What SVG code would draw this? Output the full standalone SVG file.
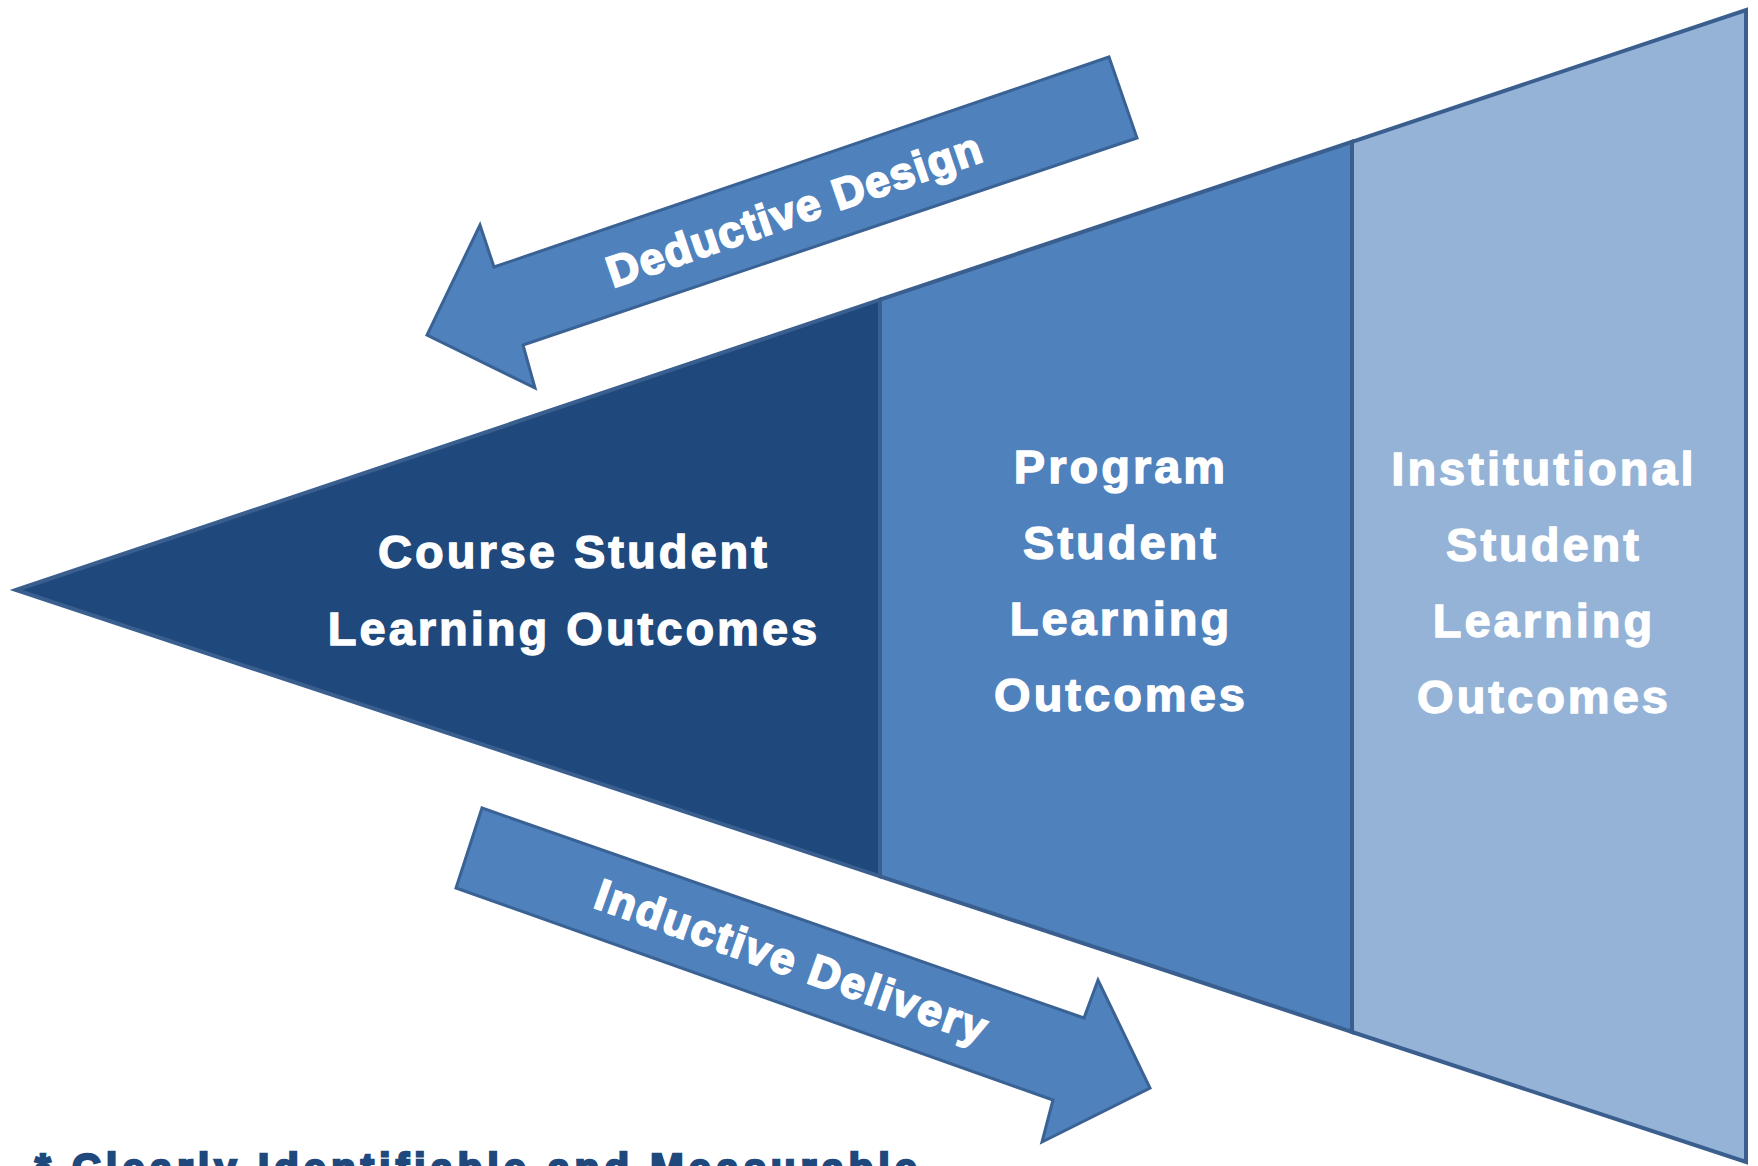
<svg xmlns="http://www.w3.org/2000/svg" width="1758" height="1166" viewBox="0 0 1758 1166">
  <style>
    .seg { stroke: #3A5F8F; stroke-width: 4; stroke-linejoin: miter; }
    .lbl { font-family: "Liberation Sans", Arial, sans-serif; font-weight: bold; font-size: 47px; fill: #FFFFFF; stroke: #FFFFFF; stroke-width: 1.3; letter-spacing: 3px; text-anchor: middle; }
    .arrow { fill: #4F81BD; stroke: #3A6294; stroke-width: 3; stroke-linejoin: miter; }
    .atxt { font-family: "Liberation Sans", Arial, sans-serif; font-weight: bold; font-size: 44px; fill: #FFFFFF; stroke: #FFFFFF; stroke-width: 2; }
    .note { font-family: "Liberation Sans", Arial, sans-serif; font-weight: bold; font-size: 40px; fill: #1F497D; stroke: #1F497D; stroke-width: 2.5; }
  </style>
  <rect width="1758" height="1166" fill="#FFFFFF"/>

  <g id="institutional">
    <polygon class="seg" fill="#95B3D7" points="1352,141.8 1746,10 1746,1162 1352,1032"/>
    <text class="lbl" x="1544" y="485">Institutional</text>
    <text class="lbl" x="1544" y="561">Student</text>
    <text class="lbl" x="1544" y="637">Learning</text>
    <text class="lbl" x="1544" y="713">Outcomes</text>
  </g>

  <g id="program">
    <polygon class="seg" fill="#4F81BD" points="880,299.7 1352,141.8 1352,1032 880,876.3"/>
    <text class="lbl" x="1121" y="483">Program</text>
    <text class="lbl" x="1121" y="559">Student</text>
    <text class="lbl" x="1121" y="635">Learning</text>
    <text class="lbl" x="1121" y="711">Outcomes</text>
  </g>

  <g id="course">
    <polygon class="seg" fill="#1F497D" points="16,590 880,299.7 880,876.3"/>
    <text class="lbl" x="574" y="568">Course Student</text>
    <text class="lbl" x="574" y="645">Learning Outcomes</text>
  </g>

  <g id="connectors">
    <g id="deductive-design">
      <polygon class="arrow" points="1109,57 1137,138 523,345 535,388 427,335 480,225 494,267"/>
      <text class="atxt" x="613" y="288" transform="rotate(-18.9 613 288)" textLength="393" lengthAdjust="spacing">Deductive Design</text>
    </g>
    <g id="inductive-delivery">
      <polygon class="arrow" points="482,808 1084,1018 1098,980 1150,1088 1042,1142 1053,1100 456,888"/>
      <text class="atxt" x="592" y="907" transform="rotate(19.4 592 907)" textLength="412" lengthAdjust="spacing">Inductive Delivery</text>
    </g>
  </g>

  <g id="footnote">
    <text class="note" x="35" y="1182" textLength="882" lengthAdjust="spacing">* Clearly Identifiable and Measurable</text>
  </g>
</svg>
